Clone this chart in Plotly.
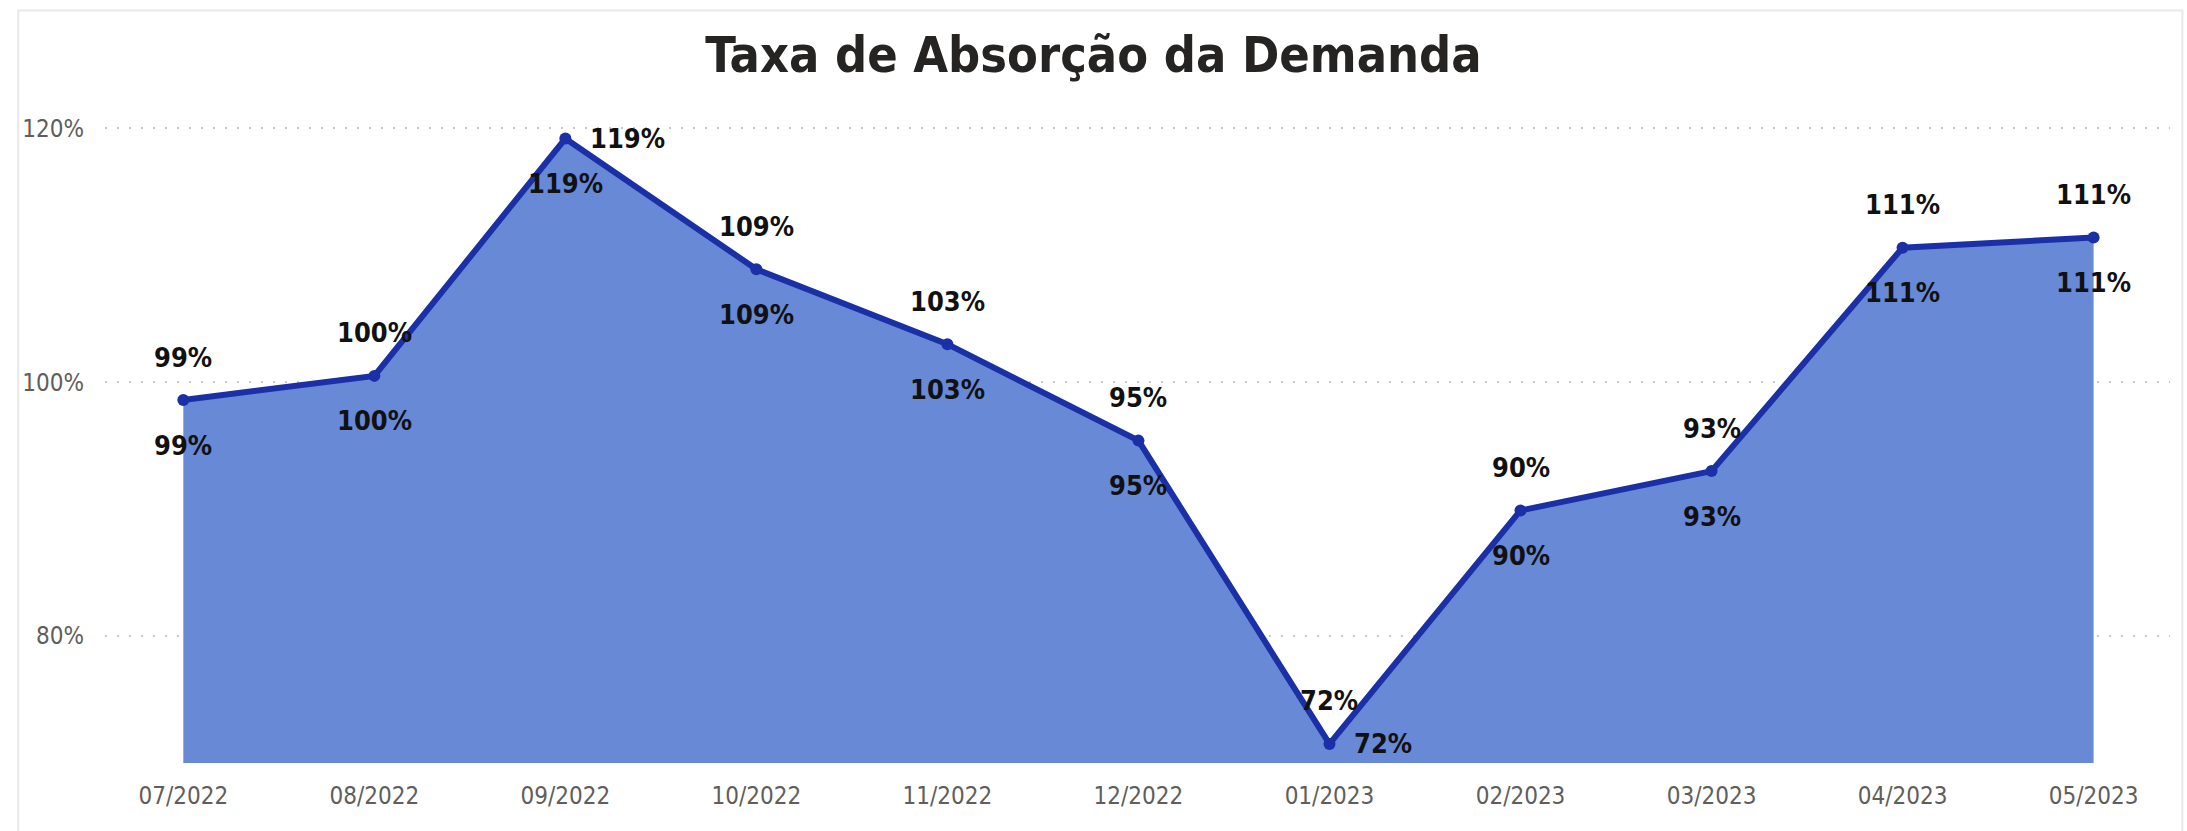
import plotly.graph_objects as go

months = ["07/2022", "08/2022", "09/2022", "10/2022", "11/2022", "12/2022",
          "01/2023", "02/2023", "03/2023", "04/2023", "05/2023"]
taxa = [98.6, 100.5, 119.2, 108.9, 103.0, 95.4, 71.5, 89.9, 93.0, 110.6, 111.4]
y_ticks = [80, 100, 120]
y_tick_labels = ["80%", "100%", "120%"]

# label offsets (pixels) for the two overlapping label layers
upper_shift = [(0, 43)] * len(months)
lower_shift = [(0, -45)] * len(months)
upper_shift[2] = (62, 0)
lower_shift[6] = (54, 0)

LINE = "#1B2FA7"
FILL = "#6889D6"
NARROW = "DejaVu Sans Condensed, Liberation Sans Narrow, sans-serif"

fig = go.Figure()
fig.add_trace(go.Scatter(
    x=months, y=taxa, mode="lines+markers",
    line=dict(color=LINE, width=6),
    marker=dict(color=LINE, size=12),
    fill="tozeroy", fillcolor=FILL,
    hoverinfo="skip", showlegend=False,
))

annotations = []
for m, v, us, ls in zip(months, taxa, upper_shift, lower_shift):
    lbl = f"{round(v):d}%"
    for (dx, dy) in (us, ls):
        annotations.append(dict(
            x=m, y=v, xref="x", yref="y", text=f"<b>{lbl}</b>",
            showarrow=False, xshift=dx, yshift=dy,
            xanchor="center", yanchor="middle",
            font=dict(family=NARROW, size=27, color="#111111"),
        ))

fig.update_layout(
    width=2187, height=831,
    paper_bgcolor="white", plot_bgcolor="white",
    margin=dict(l=105, r=17, t=103, b=68),
    title=dict(
        text="Taxa de Absorção da Demanda",
        x=0.5, xanchor="center", y=1 - 54 / 831, yanchor="middle",
        font=dict(family=NARROW, size=50, color="#252423", weight="bold"),
    ),
    annotations=annotations,
    xaxis=dict(
        type="category", range=[-0.41, 10.4],
        showgrid=False, zeroline=False, showline=False,
        ticks="", ticklabelstandoff=16,
        tickfont=dict(family=NARROW, size=24, color="#605E5C"),
    ),
    yaxis=dict(
        range=[70, 122], tickvals=y_ticks, ticktext=y_tick_labels,
        showgrid=True, gridcolor="#C8C8C8", gridwidth=2, griddash="2px,10px",
        zeroline=False, showline=False, ticks="", ticklabelstandoff=20,
        tickfont=dict(family=NARROW, size=24, color="#605E5C"),
    ),
    shapes=[dict(type="rect", xref="paper", yref="paper", x0=-0.042, x1=1.006,
                 y0=-0.11, y1=1.14, line=dict(color="#E8E8E8", width=2),
                 layer="below")],
)

fig.write_html("out.html", config={"displayModeBar": False},
               post_script="document.body.style.margin='0';")
